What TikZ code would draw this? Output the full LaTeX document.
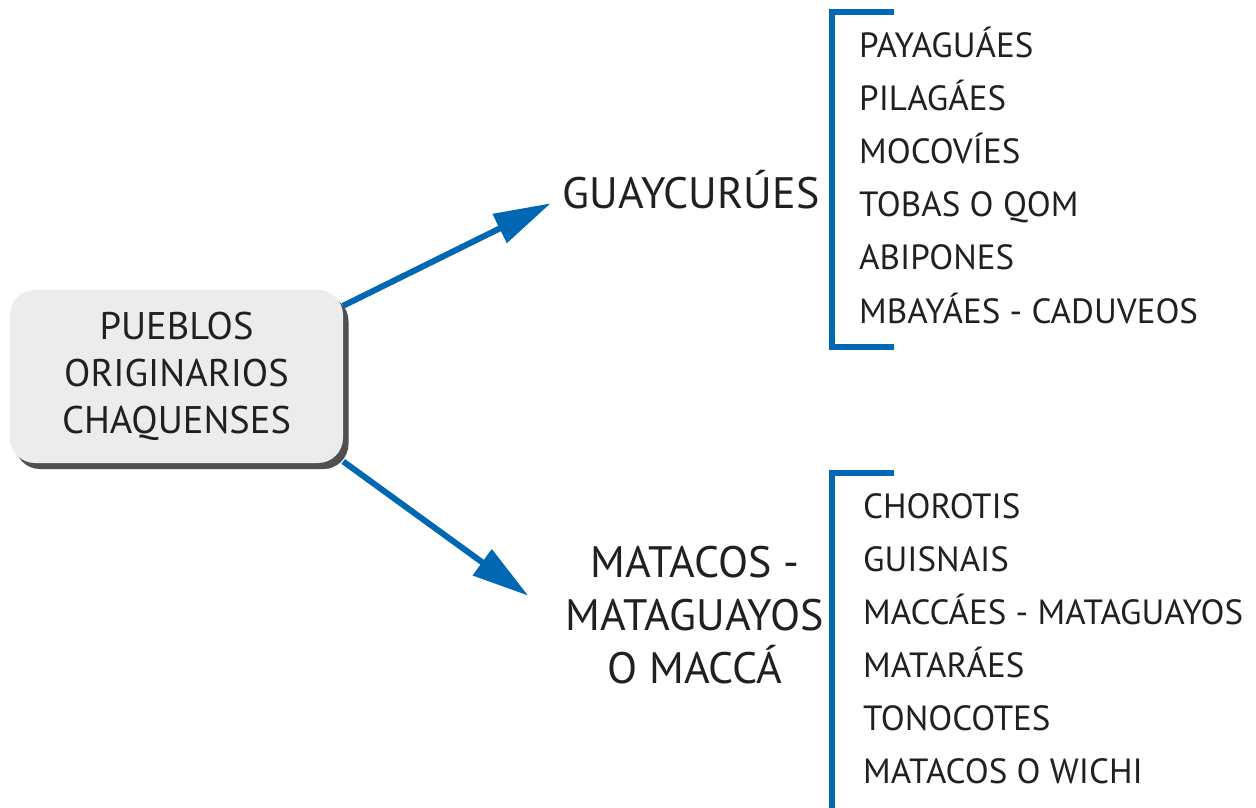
\documentclass[tikz,border=0pt]{standalone}
\usepackage{fontspec}
\setmainfont{PT Sans}
\usetikzlibrary{arrows.meta,backgrounds}
\definecolor{cblue}{HTML}{0068B3}
\definecolor{ctext}{HTML}{231F20}
\definecolor{cbox}{HTML}{ECECEC}
\definecolor{cshadow}{HTML}{505050}
\begin{document}
\begin{tikzpicture}[x=1pt,y=-1pt,
  txt/.style={text=ctext,inner sep=0pt},
  item/.style={txt,anchor=base west,font=\fontsize{35}{40}\selectfont},
  big/.style={txt,align=center,font=\fontsize{44}{53}\selectfont},
  conn/.style={draw=cblue,line width=6pt,-{Triangle[length=57pt,width=31pt]}},
  brk/.style={draw=cblue,line width=6pt,line join=miter}]
\useasboundingbox (0,0) rectangle (1256,807);
% shadow
\fill[cshadow,rounded corners=25pt] (15,296) rectangle (348.5,469);
\node[txt,fill=cbox,rounded corners=25pt,minimum width=333pt,minimum height=173pt,
  align=center,font=\fontsize{38.5}{47}\selectfont] (box) at (176.5,376.5)
  {PUEBLOS\\ORIGINARIOS\\CHAQUENSES};
\node[big] (guay) at (691,190) {GUAYCURÚES};
\node[big] (mata) at (695,615) {MATACOS -\\MATAGUAYOS\\O MACCÁ};
\coordinate (t1) at (550.7,203.3);
\coordinate (t2) at (528.3,595.7);
\begin{scope}[on background layer]
\draw[conn] (box.23) -- (t1);
\draw[conn] (box.-27) -- (t2);
\end{scope}
% brackets
\coordinate (b1a) at (894,12.3);
\coordinate (b1b) at (831.7,12.3);
\coordinate (b1c) at (831.7,347);
\coordinate (b1d) at (894,347);
\draw[brk] (b1a) -- (b1b) -- (b1c) -- (b1d);
\coordinate (b2a) at (894,473);
\coordinate (b2b) at (831.7,473);
\coordinate (b2c) at (831.7,812);
\draw[brk] (b2a) -- (b2b) -- (b2c);
% list 1
\node[item] (g1) at (859,57) {PAYAGUÁES};
\node[item] (g2) at (859,110.2) {PILAGÁES};
\node[item] (g3) at (859,163.4) {MOCOVÍES};
\node[item] (g4) at (859,216.6) {TOBAS O QOM};
\node[item] (g5) at (859,269.8) {ABIPONES};
\node[item] (g6) at (859,323) {MBAYÁES - CADUVEOS};
% list 2
\node[item] (m1) at (863,518) {CHOROTIS};
\node[item] (m2) at (863,571) {GUISNAIS};
\node[item] (m3) at (863,624) {MACCÁES - MATAGUAYOS};
\node[item] (m4) at (863,677) {MATARÁES};
\node[item] (m5) at (863,730) {TONOCOTES};
\node[item] (m6) at (863,783) {MATACOS O WICHI};
\end{tikzpicture}
\end{document}
